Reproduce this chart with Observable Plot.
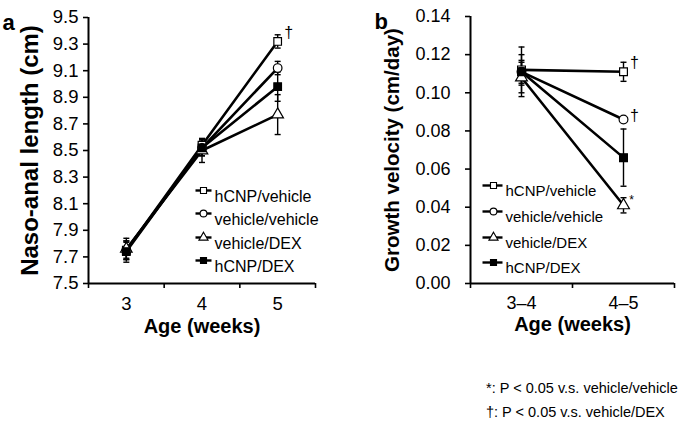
<!DOCTYPE html>
<html>
<head>
<meta charset="utf-8">
<script src="https://cdn.jsdelivr.net/npm/d3@7"></script>
<script src="https://cdn.jsdelivr.net/npm/@observablehq/plot@0.6"></script>
<style>
  body { margin: 0; background: #fff; font-family: "Liberation Sans", Arial, sans-serif; }
  #wrap { position: relative; width: 685px; height: 424px; overflow: hidden; }
  #pa { position: absolute; left: 0; top: 0; }
  #pb { position: absolute; left: 340px; top: 0; }
  #notes { position: absolute; left: 486px; top: 376px; font-size: 14.5px; line-height: 24px; color: #000; white-space: nowrap; }
</style>
</head>
<body>
<div id="wrap">
  <div id="pa"></div>
  <div id="pb"></div>
  <div id="notes">
    <div>*: P &lt; 0.05 v.s. vehicle/vehicle</div>
    <div>†: P &lt; 0.05 v.s. vehicle/DEX</div>
  </div>
</div>
<script>
// ---------- data ----------
const groups = ["hCNP/vehicle", "vehicle/vehicle", "vehicle/DEX", "hCNP/DEX"];
const groupSymbols = ["square", "circle", "triangle", "square"];
const groupFills = ["white", "white", "white", "black"];

// Panel a: naso-anal length (cm) at ages 3, 4, 5 weeks
const ages = [3, 4, 5];
const lenHcnpVeh = [7.75, 8.54, 9.32];
const lenHcnpVehSD = [0.06, 0.05, 0.05];
const lenVehVeh = [7.75, 8.52, 9.12];
const lenVehVehSD = [0.07, 0.06, 0.05];
const lenVehDex = [7.76, 8.50, 8.77];
const lenVehDexSD = [0.08, 0.09, 0.15];
const lenHcnpDex = [7.74, 8.52, 8.98];
const lenHcnpDexSD = [0.08, 0.06, 0.11];
const lenTicks = [7.5, 7.7, 7.9, 8.1, 8.3, 8.5, 8.7, 8.9, 9.1, 9.3, 9.5];
const lenMarks = ["†", "", "", ""];

// Panel b: growth velocity (cm/day) over intervals
const intervals = ["3–4", "4–5"];
const velHcnpVeh = [0.112, 0.111];
const velHcnpVehSD = [0.008, 0.005];
const velVehVeh = [0.111, 0.086];
const velVehVehSD = [0.006, 0.001];
const velVehDex = [0.108, 0.041];
const velVehDexSD = [0.008, 0.004];
const velHcnpDex = [0.111, 0.066];
const velHcnpDexSD = [0.013, 0.015];
const velTicks = [0, 0.02, 0.04, 0.06, 0.08, 0.10, 0.12, 0.14];
const velMarks = ["†", "†", "*", ""];

// ---------- helpers ----------
const font = "'Liberation Sans', Arial, sans-serif";
const cap = {draw(ctx) { ctx.moveTo(-3, 0); ctx.lineTo(3, 0); }};
const legLineA = {draw(ctx) { ctx.moveTo(-8, 0); ctx.lineTo(8, 0); }};
const legLineB = {draw(ctx) { ctx.moveTo(-11, 0); ctx.lineTo(9, 0); }};

function rowsFrom(xs, means, sds) {
  const rows = [];
  groups.forEach((g, gi) => {
    xs.forEach((x, i) => rows.push({group: g, gi, x, y: means[gi][i], sd: sds[gi][i], last: i === xs.length - 1}));
  });
  return rows;
}

function seriesMarks(rows, r) {
  const marks = [
    Plot.line(rows, {x: "x", y: "y", z: "group", stroke: "black", strokeWidth: 2.6}),
    Plot.ruleX(rows, {x: "x", y1: d => d.y - d.sd, y2: d => d.y + d.sd, stroke: "black", strokeWidth: 1.4}),
    Plot.dot(rows, {x: "x", y: d => d.y + d.sd, symbol: cap, stroke: "black", strokeWidth: 1.4}),
    Plot.dot(rows, {x: "x", y: d => d.y - d.sd, symbol: cap, stroke: "black", strokeWidth: 1.4})
  ];
  groups.forEach((g, gi) => {
    marks.push(Plot.dot(rows.filter(d => d.gi === gi), {
      x: "x", y: "y", symbol: groupSymbols[gi], r, fill: groupFills[gi], stroke: "black", strokeWidth: 1.2
    }));
  });
  return marks;
}

function legendMarks(lineSym, mdx, tdx, dys, fontSize) {
  const marks = [];
  groups.forEach((g, gi) => {
    marks.push(Plot.dot([g], {frameAnchor: "top-left", dx: mdx, dy: dys[gi], symbol: lineSym, stroke: "black", strokeWidth: 2.4}));
    marks.push(Plot.dot([g], {frameAnchor: "top-left", dx: mdx, dy: dys[gi], symbol: groupSymbols[gi], r: 3.4, fill: groupFills[gi], stroke: "black", strokeWidth: 1.1}));
    marks.push(Plot.text([g], {frameAnchor: "top-left", dx: tdx, dy: dys[gi], text: d => d, textAnchor: "start", fontSize, fill: "black"}));
  });
  return marks;
}

// ---------- panel a ----------
const rowsA = rowsFrom(ages,
  [lenHcnpVeh, lenVehVeh, lenVehDex, lenHcnpDex],
  [lenHcnpVehSD, lenVehVehSD, lenVehDexSD, lenHcnpDexSD]);
const boundsA = [ages[0] - 0.5, ...ages.map(a => a + 0.5)];

const plotA = Plot.plot({
  width: 340, height: 350,
  marginLeft: 88, marginRight: 25, marginTop: 17, marginBottom: 67,
  style: {fontFamily: font, color: "black", background: "white"},
  x: {domain: [boundsA[0], boundsA[boundsA.length - 1]], axis: null},
  y: {domain: [lenTicks[0], lenTicks[lenTicks.length - 1]], axis: null},
  marks: [
    Plot.axisY({ticks: lenTicks, tickFormat: d3.format(".1f"), tickSize: 5, tickPadding: 5, fontSize: 18.5, strokeWidth: 1.6, label: null}),
    Plot.axisX({ticks: ages, tickFormat: d3.format("d"), tickSize: 0, tickPadding: 13, fontSize: 18.5, label: null}),
    Plot.axisX({ticks: boundsA, tickSize: 5, tickFormat: () => "", strokeWidth: 1.6, label: null}),
    Plot.ruleX([boundsA[0]], {stroke: "black", strokeWidth: 2}),
    Plot.ruleY([lenTicks[0]], {stroke: "black", strokeWidth: 2}),
    ...seriesMarks(rowsA, 4.3),
    Plot.text(rowsA.filter(d => d.last && lenMarks[d.gi]), {x: "x", y: "y", text: d => lenMarks[d.gi], dx: 11, dy: -9, fontSize: 16, fill: "black"}),
    ...legendMarks(legLineA, 115, 126, [173, 196, 220, 243], 16),
    Plot.text(["Age (weeks)"], {frameAnchor: "bottom", dy: 49, fontSize: 20, fontWeight: "bold", fill: "black"}),
    Plot.text(["Naso-anal length (cm)"], {frameAnchor: "left", textAnchor: "middle", dx: -58, rotate: -90, fontSize: 24, fontWeight: "bold", fill: "black"}),
    Plot.text(["a"], {frameAnchor: "top-left", dx: -86, dy: -3, fontSize: 22, fontWeight: "bold", fill: "black"})
  ]
});
document.getElementById("pa").appendChild(plotA);

// ---------- panel b ----------
const idx = intervals.map((_, i) => i + 1);
const rowsB = rowsFrom(idx,
  [velHcnpVeh, velVehVeh, velVehDex, velHcnpDex],
  [velHcnpVehSD, velVehVehSD, velVehDexSD, velHcnpDexSD]);
const boundsB = [0.5, ...idx.map(i => i + 0.5)];
const lastB = rowsB.filter(d => d.last);

const plotB = Plot.plot({
  width: 345, height: 350,
  marginLeft: 130, marginRight: 11, marginTop: 16, marginBottom: 67,
  style: {fontFamily: font, color: "black", background: "white"},
  x: {domain: [boundsB[0], boundsB[boundsB.length - 1]], axis: null},
  y: {domain: [velTicks[0], velTicks[velTicks.length - 1]], axis: null},
  marks: [
    Plot.axisY({ticks: velTicks, tickFormat: d3.format(".2f"), tickSize: 5, tickPadding: 15, fontSize: 18, strokeWidth: 1.6, label: null}),
    Plot.axisX({ticks: idx, tickFormat: d => intervals[d - 1], tickSize: 0, tickPadding: 13, fontSize: 18, label: null}),
    Plot.axisX({ticks: boundsB, tickSize: 5, tickFormat: () => "", strokeWidth: 1.6, label: null}),
    Plot.ruleX([boundsB[0]], {stroke: "black", strokeWidth: 2}),
    Plot.ruleY([velTicks[0]], {stroke: "black", strokeWidth: 2}),
    ...seriesMarks(rowsB, 4.4),
    Plot.text(lastB.filter(d => d.gi === 0), {x: "x", y: "y", text: d => velMarks[d.gi], dx: 11, dy: -9, fontSize: 16, fill: "black"}),
    Plot.text(lastB.filter(d => d.gi === 1), {x: "x", y: "y", text: d => velMarks[d.gi], dx: 11, dy: -4, fontSize: 16, fill: "black"}),
    Plot.text(lastB.filter(d => d.gi === 2), {x: "x", y: "y", text: d => velMarks[d.gi], dx: 8, dy: -5, fontSize: 12, fill: "black"}),
    ...legendMarks(legLineB, 23, 35, [169, 195, 221, 246], 15),
    Plot.text(["Age (weeks)"], {frameAnchor: "bottom", dy: 47, fontSize: 20, fontWeight: "bold", fill: "black"}),
    Plot.text(["Growth velocity (cm/day)"], {frameAnchor: "left", textAnchor: "middle", dx: -78, rotate: -90, fontSize: 20.5, fontWeight: "bold", fill: "black"}),
    Plot.text(["b"], {frameAnchor: "top-left", dx: -96, dy: -3, fontSize: 22, fontWeight: "bold", fill: "black"})
  ]
});
document.getElementById("pb").appendChild(plotB);
</script>
</body>
</html>
